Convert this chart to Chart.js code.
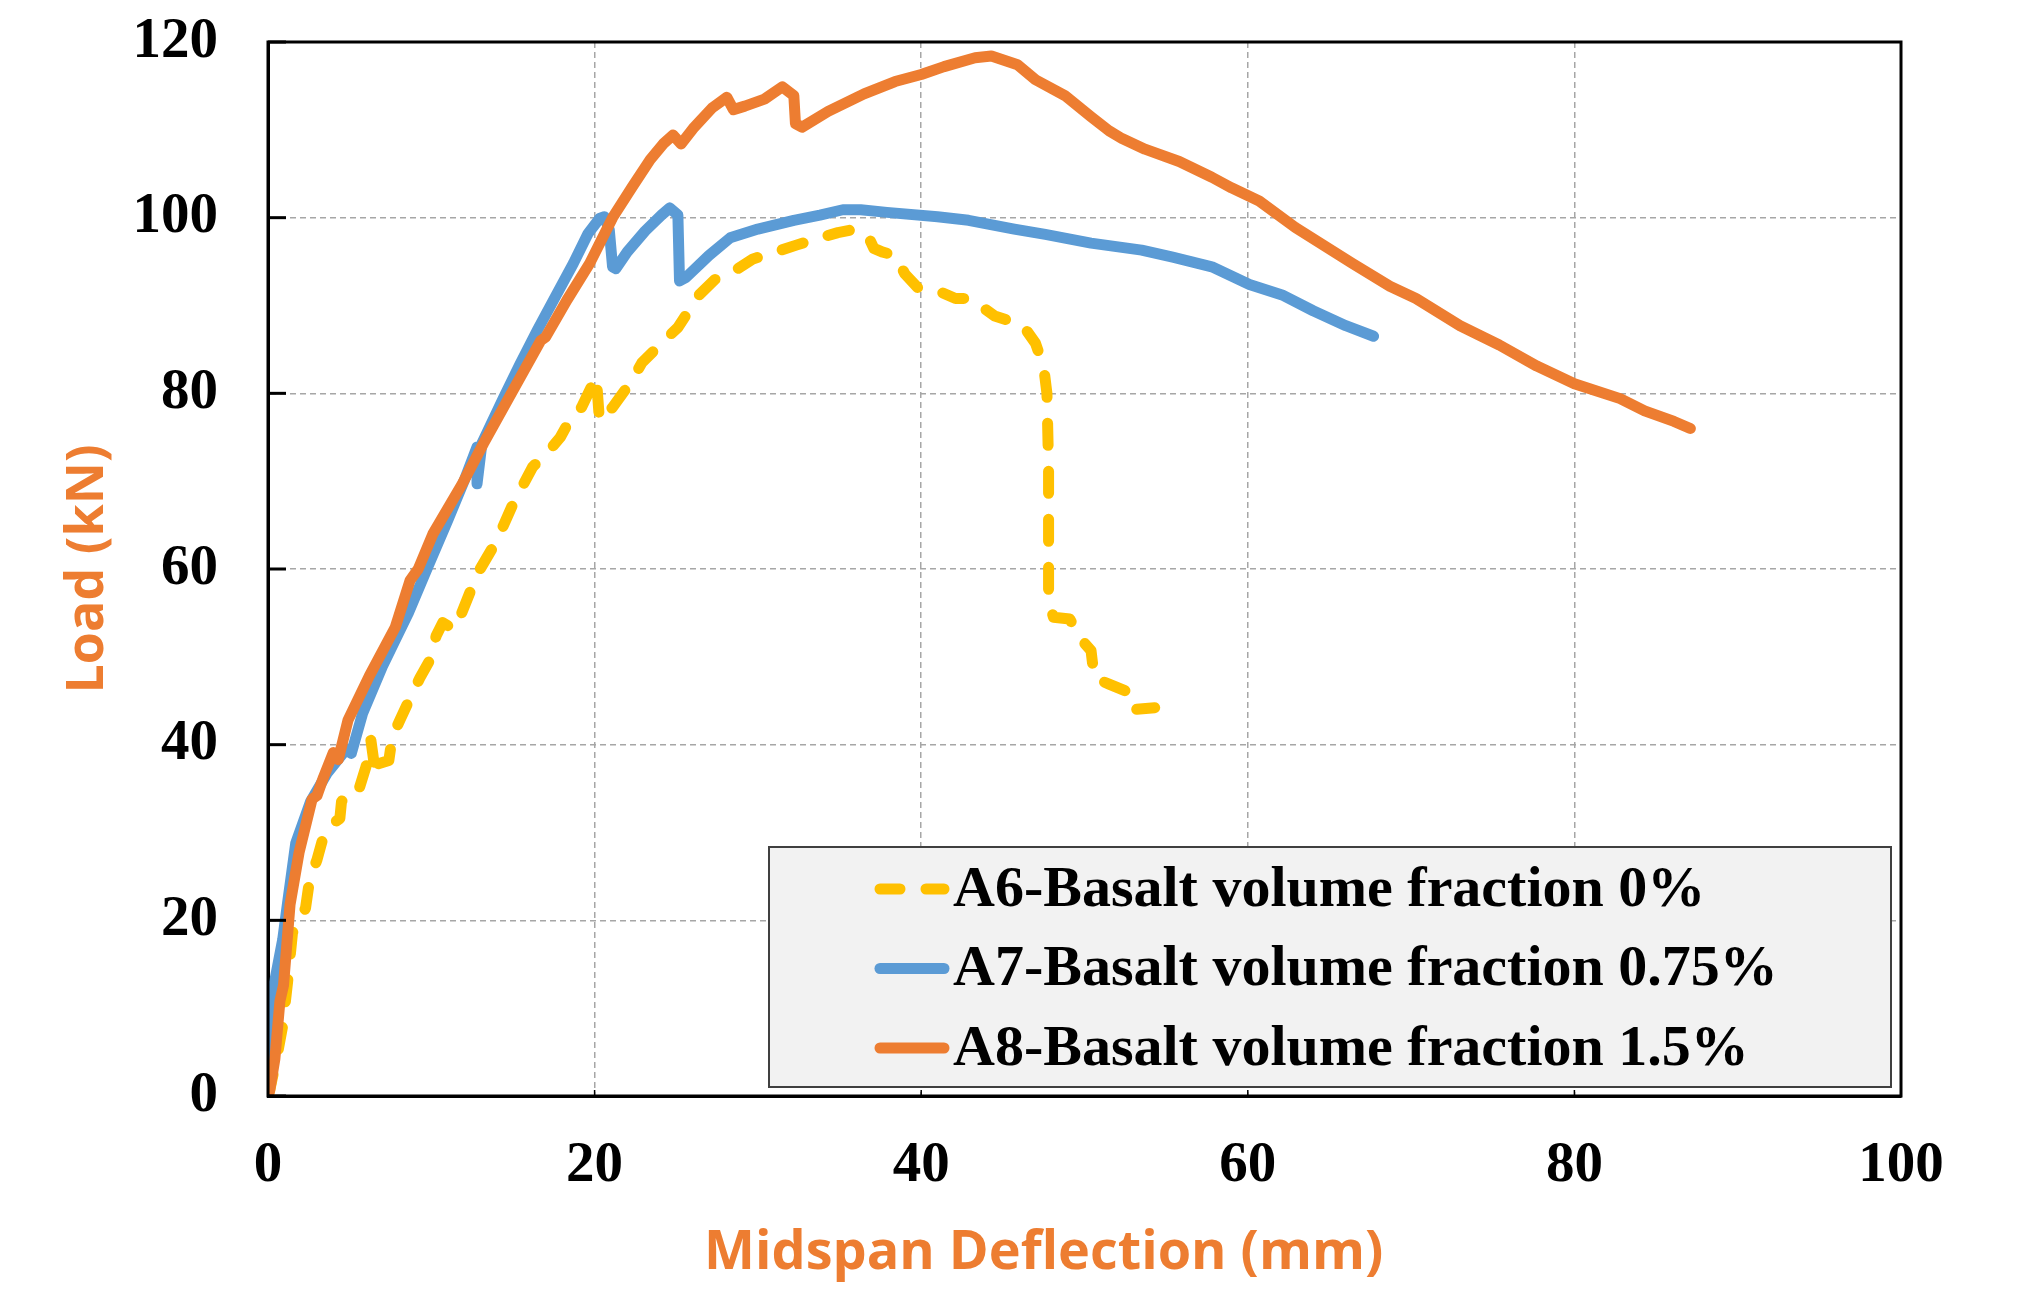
<!DOCTYPE html>
<html>
<head>
<meta charset="utf-8">
<script src="https://cdn.jsdelivr.net/npm/chart.js@4.4.1/dist/chart.umd.min.js"></script>
<style>
	body { margin: 0; background: #fff; }
	#wrap { width: 2017px; height: 1303px; }
</style>
</head>
<body>
<div id="wrap"><canvas id="loadChart" width="2017" height="1303"></canvas></div>
<script>
// A6 - 0% basalt (dashed yellow)
const a6X = [0, 0.1, 0.6, 0.9, 1.2, 1.5, 1.8, 2.3, 2.5, 2.6, 3.0, 3.4, 3.8, 4.4, 4.5, 5.0, 5.6, 6.0, 6.3, 6.6, 6.7, 7.4, 7.6, 8.1, 8.7, 9.3, 9.9, 10.3, 10.7, 11.4, 11.8, 12.4, 12.8, 14.0, 15.0, 16.2, 17.4, 17.9, 18.7, 19.2, 20.1, 20.3, 21.1, 22.3, 22.9, 24.2, 25.1, 26.4, 27.5, 28.6, 29.7, 31.1, 32.4, 33.8, 34.9, 36.0, 36.8, 37.1, 37.6, 38.4, 39.0, 39.8, 41.1, 42.1, 43.0, 44.5, 46.2, 47.0, 47.5, 47.7, 47.8, 47.8, 47.8, 48.1, 49.1, 49.7, 50.4, 50.6, 51.5, 52.8, 53.0, 54.3];
const a6Y = [0, 0.6, 5, 8, 13, 18.6, 19.5, 21.4, 24.0, 24.9, 26.9, 29.6, 30.8, 31.6, 33.5, 35.1, 35.1, 37.5, 40.5, 36.5, 37.8, 38.2, 40.8, 42.9, 45.3, 47.6, 49.6, 52.4, 53.9, 53.1, 54.7, 57.5, 59.4, 63.2, 67.4, 71.6, 73.9, 75.0, 77.7, 78.4, 81.9, 76.9, 78.4, 81.5, 83.5, 85.9, 87.5, 91.2, 93.2, 94.0, 95.3, 96.1, 96.9, 97.7, 98.3, 98.7, 97.7, 96.5, 96.1, 95.7, 93.6, 92.0, 91.6, 90.8, 90.8, 88.8, 87.8, 85.7, 83, 80, 71.6, 59.4, 56.4, 54.5, 54.3, 52.2, 50.7, 47.6, 46.9, 45.9, 44.0, 44.2];

// A7 - 0.75% basalt (blue)
const a7X = [0, 0.25, 0.3, 0.9, 1.2, 1.7, 2.6, 3.6, 4.8, 5.1, 5.8, 7.0, 8.6, 9.8, 11.0, 12.0, 12.8, 12.8, 13.1, 14.4, 15.4, 16.5, 17.6, 18.7, 19.6, 20.3, 20.6, 20.9, 21.1, 21.3, 22.0, 23.1, 24.1, 24.6, 25.1, 25.2, 25.6, 27.0, 28.3, 30.0, 32.2, 33.8, 35.2, 36.3, 37.9, 41.0, 42.9, 45.7, 47.6, 50.4, 53.5, 55.4, 57.8, 60.1, 62.1, 64.0, 66.0, 67.7];
const a7Y = [0, 10.5, 12, 17.8, 22, 28.8, 33.5, 36.7, 39.5, 39.0, 43.6, 48.9, 55.0, 60.3, 65.5, 70, 73.9, 69.7, 74.3, 79.4, 83.2, 87.2, 91.0, 94.8, 98.2, 99.9, 100.1, 98.6, 94.4, 94.2, 96.1, 98.5, 100.3, 101.1, 100.3, 92.8, 93.2, 95.7, 97.7, 98.7, 99.7, 100.3, 100.9, 100.9, 100.6, 100.1, 99.7, 98.7, 98.1, 97.1, 96.3, 95.5, 94.4, 92.4, 91.2, 89.4, 87.7, 86.5];

// A8 - 1.5% basalt (orange)
const a8X = [0, 0.1, 0.42, 0.73, 0.95, 1.35, 1.9, 2.7, 3.0, 3.4, 4.0, 4.3, 4.9, 6.2, 7.8, 8.7, 9.2, 10.1, 11.9, 13.2, 14.9, 16.7, 17.0, 18.3, 19.7, 21.1, 22.3, 23.4, 24.2, 24.8, 25.3, 26.1, 27.2, 28.1, 28.5, 29.2, 30.4, 31.5, 32.2, 32.3, 32.7, 34.3, 36.5, 38.4, 40.0, 41.4, 43.3, 44.3, 45.9, 47.0, 48.8, 50.4, 51.5, 52.3, 53.7, 55.8, 57.8, 59.0, 60.7, 62.9, 66.4, 68.7, 70.3, 73.0, 75.4, 77.7, 80.0, 82.8, 84.3, 86.1, 87.1];
const a8Y = [0, 0.6, 4.2, 10.8, 12.6, 21.8, 27.7, 33.8, 34.2, 36.3, 39.1, 38.3, 42.8, 47.8, 53.4, 58.7, 60, 64, 69.7, 74.3, 80, 86, 86.4, 90.6, 94.8, 100, 103.5, 106.6, 108.4, 109.4, 108.4, 110.3, 112.5, 113.7, 112.3, 112.7, 113.5, 114.9, 113.9, 110.7, 110.3, 112.1, 114.1, 115.5, 116.3, 117.2, 118.2, 118.4, 117.4, 115.7, 113.9, 111.5, 109.9, 109.0, 107.8, 106.4, 104.6, 103.4, 101.9, 98.9, 94.8, 92.2, 90.8, 87.7, 85.5, 83.1, 81.1, 79.4, 78.0, 76.8, 76.0];

const seriesLabels = ['A6-Basalt volume fraction 0%', 'A7-Basalt volume fraction 0.75%', 'A8-Basalt volume fraction 1.5%'];
const xTitle = 'Midspan Deflection (mm)';
const yTitle = 'Load (kN)';
const xTicks = [0, 20, 40, 60, 80, 100];
const yTicks = [0, 20, 40, 60, 80, 100, 120];

function pts(xs, ys) {
	return xs.map((v, i) => ({ x: v, y: ys[i] }));
}

const serif = '"Liberation Serif", "Times New Roman", serif';
const sans = '"Open Sans", sans-serif';
const orange = '#ED7D31';

// legend box, inward ticks, outer frame and x title
const framePlugin = {
	id: 'framePlugin',
	afterDatasetsDraw(chart) {
		const ctx = chart.ctx;
		const a = chart.chartArea;
		const xs = chart.scales.x, ys = chart.scales.y;
		ctx.save();
		// legend
		const lx = a.left + 501, ly = a.top + 805, lw = a.right - 10 - lx, lh = a.bottom - 9 - ly;
		ctx.fillStyle = '#f2f2f2';
		ctx.fillRect(lx, ly, lw, lh);
		ctx.strokeStyle = '#404040';
		ctx.lineWidth = 2;
		ctx.strokeRect(lx, ly, lw, lh);
		ctx.font = 'bold 58px ' + serif;
		ctx.textBaseline = 'middle';
		chart.data.datasets.forEach((ds, i) => {
			const cy = ly + 42 + i * 79.5;
			ctx.strokeStyle = ds.borderColor;
			ctx.lineWidth = 11;
			ctx.lineCap = 'round';
			ctx.beginPath();
			if (ds.borderDash) {
				ctx.moveTo(lx + 111, cy); ctx.lineTo(lx + 131, cy);
				ctx.moveTo(lx + 157, cy); ctx.lineTo(lx + 175, cy);
			} else {
				ctx.moveTo(lx + 111, cy); ctx.lineTo(lx + 175, cy);
			}
			ctx.stroke();
			ctx.fillStyle = '#000';
			ctx.fillText(ds.label, lx + 184, cy + 2);
		});
		// inward ticks
		ctx.lineCap = 'butt';
		ctx.strokeStyle = '#000';
		ctx.lineWidth = 3;
		yTicks.forEach(v => {
			const p = ys.getPixelForValue(v);
			ctx.beginPath(); ctx.moveTo(a.left, p); ctx.lineTo(a.left + 18, p); ctx.stroke();
		});
		ctx.lineWidth = 1.5;
		xTicks.forEach(v => {
			const p = xs.getPixelForValue(v);
			ctx.beginPath(); ctx.moveTo(p, a.bottom); ctx.lineTo(p, a.bottom - 6); ctx.stroke();
		});
		// frame
		ctx.lineWidth = 3;
		ctx.strokeRect(a.left, a.top, a.right - a.left, a.bottom - a.top);
		// x axis title (sits a little left of the axis centre in the original)
		ctx.fillStyle = orange;
		ctx.font = 'bold 54px ' + sans;
		ctx.textAlign = 'center';
		ctx.textBaseline = 'middle';
		ctx.fillText(xTitle, xs.getPixelForValue(47.5), a.bottom + 158);
		ctx.restore();
	}
};

const chart = new Chart(document.getElementById('loadChart').getContext('2d'), {
	type: 'scatter',
	data: {
		datasets: [
			{
				label: seriesLabels[0],
				data: pts(a6X, a6Y),
				borderColor: '#FFC000',
				borderDash: [22, 26],
				order: 3
			}, {
				label: seriesLabels[1],
				data: pts(a7X, a7Y),
				borderColor: '#5B9BD5',
				order: 2
			}, {
				label: seriesLabels[2],
				data: pts(a8X, a8Y),
				borderColor: orange,
				order: 1
			}
		].map(d => Object.assign(d, {
			showLine: true,
			pointRadius: 0,
			borderWidth: 11,
			borderCapStyle: 'round',
			borderJoinStyle: 'round',
			tension: 0
		}))
	},
	options: {
		responsive: false,
		animation: false,
		devicePixelRatio: 1,
		layout: { padding: { left: 0, top: 42, right: 116, bottom: 0 } },
		plugins: {
			legend: { display: false },
			tooltip: { enabled: false }
		},
		scales: {
			x: {
				type: 'linear',
				min: 0,
				max: 100,
				afterBuildTicks: s => { s.ticks = xTicks.map(v => ({ value: v })); },
				afterFit: s => { s.height = 207; s.paddingLeft = 0; s.paddingRight = 0; },
				grid: { color: '#a6a6a6', lineWidth: 1.5, drawTicks: false },
				border: { color: '#000', width: 3, dash: [6, 4] },
				ticks: { color: '#000', padding: 36, font: { family: serif, size: 57, weight: 'bold' } },
				title: { display: false }
			},
			y: {
				type: 'linear',
				min: 0,
				max: 120,
				afterBuildTicks: s => { s.ticks = yTicks.map(v => ({ value: v })); },
				afterFit: s => { s.width = 268; s.paddingTop = 0; s.paddingBottom = 0; },
				grid: { color: '#a6a6a6', lineWidth: 1.5, drawTicks: false },
				border: { color: '#000', width: 3, dash: [6, 4] },
				ticks: { color: '#000', padding: 50, font: { family: serif, size: 57, weight: 'bold' } },
				title: {
					display: true,
					text: yTitle,
					color: orange,
					font: { family: sans, size: 52, weight: 'bold' },
					padding: { top: 57, bottom: 0 }
				}
			}
		}
	},
	plugins: [framePlugin]
});
</script>
</body>
</html>
